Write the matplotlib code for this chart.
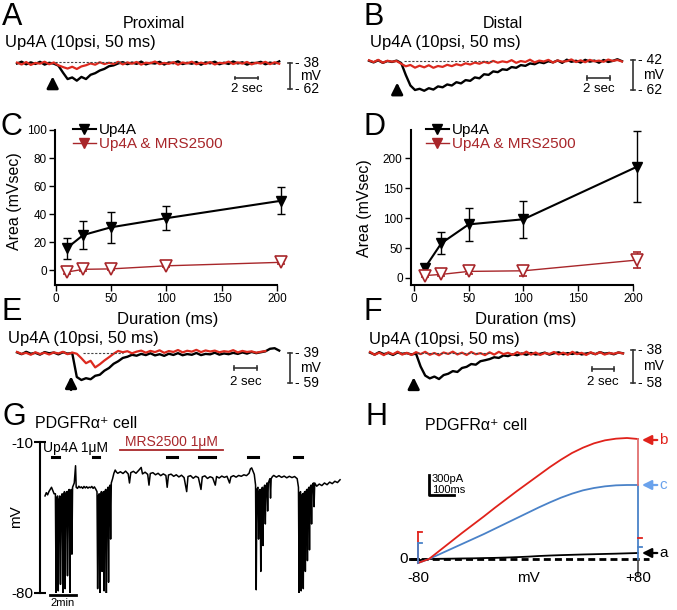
import matplotlib
matplotlib.use('Agg')
import matplotlib.pyplot as plt
import numpy as np

plt.rcParams['font.family'] = ['Liberation Sans', 'DejaVu Sans']

RED = '#dc2a1f'
DARKRED = '#a8262a'
BLUE = '#4a82c8'
LIGHTBLUE = '#6aa2ec'

DT = 0.4

# A, proximal (mV)
prox_up4a = [-38.5, -36.8, -39.2, -37.4, -38.9, -36.9, -39.5, -37.8, -38.6, -40.5,
             -47, -53, -51.5, -54.5, -51, -53, -49, -47.5, -45, -43.5,
             -41, -40.2, -38.4, -37.2, -39.1, -37.6, -38.8, -36.7, -39.3, -37.9,
             -38.5, -36.9, -39.4, -37.5, -38.2, -36.4, -39, -37.8, -38.7, -37.1,
             -39.6, -37.4, -38.3, -36.8, -39.2, -37.7, -38.9, -36.6, -38.4, -37.3,
             -39.5, -37.9, -38.1, -36.9, -39.2, -37.6, -38.6, -36.5]
prox_mrs = [-37.6, -39.4, -37.1, -39.8, -37.9, -38.6, -36.8, -39.2, -37.5, -40.2,
            -41.8, -43.2, -41.5, -43.6, -41.2, -40.1, -38.4, -39.6, -37.3, -39,
            -37.8, -38.9, -36.9, -39.3, -37.4, -38.7, -37, -39.5, -37.7, -38.2,
            -36.6, -39.1, -37.9, -38.8, -37.2, -39.6, -37.5, -38.4, -36.8, -39.2,
            -37.6, -38.9, -37.1, -39.4, -37.8, -38.3, -36.7, -39, -37.4, -38.6,
            -37, -39.3, -37.7, -38.5, -36.9, -39.1, -37.3, -38.7]

# B, distal (mV)
dist_up4a = [-42.5, -43.6, -42.2, -43.9, -42.7, -43.3, -42.4, -44, -52, -59,
             -62, -61.2, -62.5, -60.8, -61.7, -59.6, -60.2, -58.3, -59, -56.8,
             -57.6, -55.4, -55.9, -53.6, -54.2, -51.5, -51.9, -49.6, -50.1, -48.2,
             -48.6, -46.7, -47.2, -45.4, -45.9, -44.3, -44.8, -43.4, -44.1, -42.8,
             -43.6, -42.3, -43.9, -41.8, -43.2, -42.5, -43.7, -41.9, -43.1, -42.4,
             -43.8, -42, -43.3, -42.6, -41.5, -42.8]
dist_mrs = [-42.2, -43.4, -41.9, -43.8, -42.5, -43.1, -42.7, -44.5, -46.2, -45.3,
            -47.1, -45.8, -46.9, -45.5, -47.2, -46, -46.6, -45.2, -46.1, -44.8,
            -45.6, -44.2, -45, -43.7, -44.5, -43.2, -44.1, -42.6, -43.8, -42.9,
            -43.5, -42.1, -43.9, -42.7, -43.3, -41.8, -43.6, -42.4, -43, -41.9,
            -43.7, -42.3, -43.1, -42.8, -41.6, -43.4, -42.2, -43.5, -41.9, -42.9,
            -42.4, -43.2, -41.7, -42.6, -42, -43]

# E (mV)
e_up4a = [-38.6, -39.8, -38.2, -39.5, -38.9, -40.1, -38.4, -39.2, -38.7, -39.9,
          -38.5, -39.4, -39, -55, -57, -55.8, -56.5, -54.2, -53.5, -50.8,
          -49, -46.2, -44.5, -42.3, -41.5, -40.2, -40.8, -39.6, -40.4, -39.2,
          -40.6, -39.8, -40.9, -39.5, -40.3, -39.1, -40.5, -39.7, -40.2, -39,
          -40.4, -39.6, -39.9, -38.8, -40.1, -39.3, -39.8, -38.9, -39.6, -38.6,
          -39.4, -38.3, -39.1, -38.5, -37.9, -36.2, -35.8, -37.4]
e_mrs = [-38.3, -39.6, -38.9, -40.2, -38.5, -39.7, -38.8, -40, -38.6, -39.3,
         -38.2, -39.8, -38.7, -39.5, -42.5, -45.8, -44.2, -48.6, -46.5, -44,
         -41.8, -39.5, -37.6, -38.5, -37.8, -39.2, -38.1, -37.4, -38.8, -37.6,
         -38.4, -37.2, -38.9, -37.7, -38.3, -37, -38.6, -37.5, -38.1, -36.9,
         -38.4, -37.3, -38, -37.4, -38.5, -37.8, -38.2, -37.1, -38.6, -37.6,
         -38.3, -37.9, -38.8, -38.2, -37.7]

# F (mV)
f_up4a = [-39.6, -40.8, -39.3, -40.5, -39.8, -41, -39.5, -40.3, -39.9, -40.7,
          -40.2, -48, -53.5, -55.2, -54.1, -55.6, -53.2, -52.4, -50.8, -51.3,
          -48.9, -48.2, -46.5, -46.9, -44.8, -44.2, -43.5, -42.4, -42.8, -41.3,
          -41.7, -40.6, -41.2, -40.1, -40.9, -39.8, -40.7, -40.3, -39.6, -40.8,
          -40, -39.4, -40.6, -39.9, -40.4, -39.5, -40.7, -40.1, -39.7, -40.5,
          -39.3, -40.2, -39.8, -40.6, -39.5, -40]
f_mrs = [-39.2, -40.9, -39.6, -41.1, -39.4, -40.6, -39, -40.8, -39.7, -41,
         -39.3, -40.5, -39.1, -40.9, -39.8, -41.2, -39.5, -40.4, -39, -40.7,
         -39.6, -41, -39.2, -40.6, -39.9, -41.1, -39.4, -40.8, -39.1, -40.5,
         -39.7, -40.9, -39.3, -40.6, -39, -40.8, -39.5, -41, -39.8, -40.4,
         -39.2, -40.7, -39.6, -40.9, -39.1, -40.5, -39.7, -41, -39.4, -40.6,
         -39.3, -40.8, -39.8, -40.3, -39.5, -40.1]

# C / D summary
duration = [10, 25, 50, 100, 204]
prox_area = [15.5, 25, 30.5, 37, 49.5]
prox_err = [7.5, 10, 11, 8.5, 9.5]
prox_area_mrs = [-1.5, 0.5, 0.8, 3, 5.5]
prox_err_mrs = [1, 1, 1, 1, 1]
dist_area = [17, 58, 89.5, 98, 186]
dist_err = [5, 18, 27.5, 31, 60]
dist_area_mrs = [4, 6, 11, 12, 30]
dist_err_mrs = [3, 3, 4, 8, 14]

# G, PDGFRa+ cell membrane potential (min, mV)
g_t = [0, 0.1, 0.2, 0.3, 0.4, 0.5, 0.6, 0.7,
       0.8, 0.85, 0.9, 0.97, 1.02, 1.07, 1.14, 1.19, 1.24, 1.32, 1.37, 1.42, 1.5, 1.55, 1.6,
       1.68, 1.73, 1.78, 1.86, 1.91, 1.96, 2.02, 2.07, 2.12, 2.25, 2.35, 2.4,
       2.5, 2.6, 2.7, 2.8, 2.9, 3.0, 3.1, 3.2, 3.3, 3.4, 3.5, 3.6, 3.7, 3.8, 3.9, 4.0,
       4.05, 4.1, 4.17, 4.22, 4.27, 4.34, 4.39, 4.44, 4.5, 4.55, 4.6, 4.67, 4.72, 4.77,
       4.84, 4.89, 4.94, 5.0, 5.05, 5.1,
       5.2, 5.3, 5.4, 5.5, 5.6,
       5.8, 6.0, 6.2, 6.4, 6.5, 6.6, 6.8, 7.0, 7.2, 7.4, 7.5, 7.7, 7.9, 8.0, 8.1, 8.3,
       8.5, 8.7, 8.9, 9.1, 9.3, 9.4, 9.5, 9.7, 9.9, 10.1, 10.3, 10.5, 10.7, 10.9, 11.0,
       11.2, 11.4, 11.6, 11.8, 12.0, 12.1, 12.3, 12.5, 12.7, 12.9, 13.1, 13.2, 13.4,
       13.6, 13.8, 14.0, 14.2, 14.3, 14.5, 14.7, 14.9, 15.1, 15.3, 15.5, 15.7, 15.8,
       15.9, 16.0, 16.1,
       16.2, 16.25, 16.3, 16.38, 16.43, 16.48, 16.55, 16.6, 16.65, 16.72, 16.77, 16.82,
       16.9, 16.95, 17.0, 17.08, 17.13, 17.18, 17.3, 17.35, 17.4, 17.5,
       17.6, 17.8, 18.0, 18.2, 18.4, 18.6, 18.8, 19.0, 19.2, 19.4,
       19.5, 19.55, 19.6, 19.66, 19.71, 19.76, 19.82, 19.87, 19.92, 19.98, 20.03, 20.08,
       20.14, 20.19, 20.24, 20.3, 20.35, 20.4, 20.46, 20.51, 20.56, 20.65, 20.7, 20.75,
       20.9, 21.1, 21.3, 21.5, 21.7, 21.9, 22.1, 22.3, 22.5, 22.7]
g_v = [-35, -33.5, -34.5, -33, -32, -31, -32.5, -34,
       -34, -80, -36, -35, -79, -37, -35, -76, -36, -34, -80, -35, -33, -78, -34,
       -33, -72, -33, -32, -80, -33, -32, -62, -31, -29, -21, -31,
       -31.5, -30.5, -31.2, -30.8, -31.5, -30.6, -31.3, -30.7, -31.4, -30.9, -31.2,
       -30.6, -31.5, -30.8, -31.8, -33,
       -78, -35, -34, -80, -36, -33, -70, -35, -33, -79, -33, -32, -80, -33,
       -31, -75, -31, -30, -55, -29,
       -27, -24.5, -23, -24, -24.5,
       -23.8, -24.6, -23.5, -24.8, -29, -24.2, -23.6, -24.5, -23.2, -21.8, -24.8, -24.0,
       -25, -30, -24.6, -24.2, -25.2, -24.5, -25.6, -24.8, -25.5, -31, -25.3, -24.9,
       -25.9, -25.2, -26.2, -25.4, -26.5, -33, -26, -25.6, -26.8, -25.9, -26.5, -32,
       -26.2, -25.7, -26.9, -26.1, -26.6, -30, -26.0, -26.7, -25.8, -26.4, -25.9, -29,
       -26.2, -25.6, -26.3, -25.5, -25.9, -25.2, -25.6, -24.5, -22.5, -22, -23.5, -25,
       -30, -78.5, -32, -31, -55, -33, -32, -70, -34, -31, -58, -32,
       -30, -48, -31, -29, -42, -29, -27, -36, -27, -26,
       -25.5, -26.3, -25.6, -26.4, -25.8, -26.6, -25.9, -26.5, -26, -27,
       -31, -80, -34, -33, -79, -35, -34, -78, -34, -33, -70, -33,
       -32, -65, -32, -31, -60, -31, -30, -48, -30, -29, -40, -29,
       -30.5, -29.5, -30.2, -29, -29.8, -28.6, -29.3, -28.2, -28.8, -27.5]
up4a_on = [0.54, 3.7, 9.4, 11.85, 15.6, 19.15]
up4a_off = [1.08, 4.15, 10.15, 13.1, 16.4, 19.8]
mrs_span = [5.77, 13.7]

# H, ramp currents (mV, pA)
ramp_mv = [-80, -76, -72, -64, -56, -48, -40, -32, -24, -16, -8, 0, 8, 16, 24, 32,
           40, 48, 56, 64, 72, 80]
ramp_b = [-60, -30, 0, 130, 260, 390, 515, 640, 770, 895, 1020, 1140, 1260, 1380,
          1490, 1590, 1670, 1735, 1780, 1805, 1815, 1800]
ramp_c = [-60, -30, 0, 75, 150, 225, 300, 375, 455, 535, 615, 695, 775, 850, 920,
          980, 1030, 1065, 1090, 1105, 1110, 1110]
ramp_a = [-20, -10, 0, 3, 5, 8, 10, 14, 17, 22, 28, 35, 45, 52, 58, 63, 68, 72, 76,
          80, 85, 90]

W, H = 677, 610
fig = plt.figure(figsize=(6.77, 6.10), dpi=100)


def px_axes(x0, y0, x1, y1):
    return fig.add_axes([x0 / W, 1 - y1 / H, (x1 - x0) / W, (y1 - y0) / H])


def ftext(x, y, s, **kw):
    fig.text(x / W, 1 - y / H, s, **kw)


def trace_axes(x0, x1, y0, y1, t0_px, v_ref, v_ref_px, mv_px, s_px=11.5):
    ax = px_axes(x0, y0, x1, y1)
    ax.set_xlim((x0 - t0_px) / s_px, (x1 - t0_px) / s_px)
    ax.set_ylim(v_ref - (y1 - v_ref_px) / mv_px, v_ref + (v_ref_px - y0) / mv_px)
    ax.axis('off')
    return ax


def draw_trace(ax, black, red, arrow_t, arrow_v, dash, vbar_t, vbar_v, tbar_t, tbar_v, stext_v):
    tb = np.arange(len(black)) * DT
    tr = np.arange(len(red)) * DT
    ax.plot(dash[:2], [dash[2]] * 2, ls=(0, (2, 1.5)), color='#444444', lw=0.8, zorder=4)
    ax.plot(tb, black, color='k', lw=1.7)
    ax.plot(tr, red, color=RED, lw=1.6)
    ax.annotate('', xy=(arrow_t, arrow_v[0]), xytext=(arrow_t, arrow_v[1]),
                arrowprops=dict(arrowstyle='-|>', color='k', lw=2, mutation_scale=17,
                                shrinkA=0, shrinkB=0))
    ax.plot([vbar_t, vbar_t], vbar_v, color='#333333', lw=1.2)
    for v in vbar_v:
        ax.plot([vbar_t - 0.2, vbar_t + 0.2], [v, v], color='#333333', lw=1.2)
        ax.text(vbar_t + 0.45, v, '- %d' % -v, ha='left', va='center', fontsize=10)
    ax.text(vbar_t + 1.8, np.mean(vbar_v), 'mV', ha='center', va='center', fontsize=10)
    ax.plot(tbar_t, [tbar_v] * 2, color='#333333', lw=1.2)
    for t in tbar_t:
        ax.plot([t, t], [tbar_v - 1.3, tbar_v + 1.3], color='#333333', lw=1.2)
    ax.text(np.mean(tbar_t), stext_v, '2 sec', ha='center', va='center', fontsize=9.5)


# ---- A / B / E / F traces
axA = trace_axes(0, 336, 48, 100, 17, -38, 63, 1.07)
draw_trace(axA, prox_up4a, prox_mrs, 3.1, (-50.5, -61.5), (3.3, 9.5, -37.5),
           23.74, (-38, -62), (18.96, 20.96), -52, -62.3)
axB = trace_axes(337, 677, 48, 100, 369, -42, 60, 1.5)
draw_trace(axB, dist_up4a, dist_mrs, 2.45, (-57, -64.5), (3.0, 10.9, -42.5),
           22.96, (-42, -62), (18.96, 20.96), -54, -61.3)
axE = trace_axes(0, 336, 335, 395, 17, -39, 353, 1.5)
draw_trace(axE, e_up4a, e_mrs, 4.7, (-54.5, -63.5), (5.7, 9.2, -39),
           23.74, (-39, -59), (18.9, 20.9), -49, -58.3)
axF = trace_axes(337, 677, 335, 395, 370, -38, 350, 1.65)
draw_trace(axF, f_up4a, f_mrs, 3.8, (-54.5, -61.5), (4.1, 10.4, -39.8),
           22.87, (-38, -58), (19.3, 21.2), -49.5, -57.4)

for lab, x, y in [('A', 2, 25), ('B', 364, 25), ('C', 1, 135), ('D', 364, 135),
                  ('E', 1, 320), ('F', 364, 320), ('G', 2, 425), ('H', 365, 425)]:
    ftext(x, y, lab, fontsize=22, va='baseline', ha='left')

ftext(154, 23, 'Proximal', fontsize=11.5, ha='center', va='center')
ftext(503, 23, 'Distal', fontsize=11.5, ha='center', va='center')
for x, y in [(5, 43), (370, 43), (8, 338), (369, 340)]:
    ftext(x, y, 'Up4A (10psi, 50 ms)', fontsize=12, ha='left', va='center')


# ---- C / D summary plots
def summary(ax, area, err, area_m, err_m, ylim, yticks):
    ax.errorbar(duration, area, yerr=err, fmt='-v', color='k', ms=7, lw=1.5,
                elinewidth=1, capsize=3, clip_on=False, zorder=3)
    ax.errorbar(duration, area_m, yerr=err_m, fmt='-v', color=DARKRED, mfc='white',
                mec=DARKRED, ms=8, mew=1.2, lw=1, elinewidth=1, capsize=3,
                clip_on=False, zorder=3)
    for s in ['top', 'right']:
        ax.spines[s].set_visible(False)
    for s in ['left', 'bottom']:
        ax.spines[s].set_linewidth(1.5)
    ax.set_ylim(*ylim)
    ax.set_yticks(yticks)
    ax.set_xticks([0, 50, 100, 150, 200])
    ax.tick_params(direction='out', length=4, width=1, labelsize=8.5, pad=2)
    ax.set_ylabel('Area (mVsec)', fontsize=11.5)
    ax.set_xlabel('Duration (ms)', fontsize=12)
    leg_h = [plt.Line2D([], [], color='k', marker='v', ms=7, lw=1.5),
             plt.Line2D([], [], color=DARKRED, marker='v', ms=7, lw=1)]
    return leg_h


axC = px_axes(55, 130, 277, 285)
axC.set_xlim(-0.5, 200)
hC = summary(axC, prox_area, prox_err, prox_area_mrs, prox_err_mrs, (-10.7, 100),
             [0, 20, 40, 60, 80, 100])
axC.yaxis.set_label_coords(22 / W, 1 - 201 / H, transform=fig.transFigure)
axC.xaxis.set_label_coords(168 / W, 1 - 312 / H, transform=fig.transFigure)
axC.legend(hC, ['Up4A', 'Up4A & MRS2500'], loc='upper left',
           bbox_to_anchor=(73 / W, 1 - 123 / H), bbox_transform=fig.transFigure,
           frameon=False, fontsize=11, handlelength=1.5, handletextpad=0.2,
           labelspacing=0.0, borderpad=0, borderaxespad=0,
           labelcolor=['k', DARKRED])

axD = px_axes(411, 130, 633, 285)
axD.set_xlim(-2.7, 200)
hD = summary(axD, dist_area, dist_err, dist_area_mrs, dist_err_mrs, (-11.7, 247),
             [0, 50, 100, 150, 200])
axD.yaxis.set_label_coords(372 / W, 1 - 208 / H, transform=fig.transFigure)
axD.xaxis.set_label_coords(526 / W, 1 - 312 / H, transform=fig.transFigure)
axD.legend(hD, ['Up4A', 'Up4A & MRS2500'], loc='upper left',
           bbox_to_anchor=(426 / W, 1 - 123 / H), bbox_transform=fig.transFigure,
           frameon=False, fontsize=11, handlelength=1.5, handletextpad=0.2,
           labelspacing=0.0, borderpad=0, borderaxespad=0,
           labelcolor=['k', DARKRED])

# ---- G
axG = px_axes(40, 442, 345, 593)
axG.set_xlim(-0.385, 23.08)
axG.set_ylim(-80, -10)
axG.plot(g_t, g_v, color='k', lw=1.1)
for s in ['top', 'right', 'bottom']:
    axG.spines[s].set_visible(False)
axG.spines['left'].set_linewidth(1.5)
axG.set_xticks([])
axG.set_yticks([-80, -10])
axG.set_yticklabels(['-80', '-10'])
axG.tick_params(axis='y', direction='inout', length=8, width=1.5, labelsize=11, pad=1)
axG.set_ylabel('mV', fontsize=11)
axG.yaxis.set_label_coords(23 / W, 1 - 517 / H, transform=fig.transFigure)
for a, b in zip(up4a_on, up4a_off):
    axG.plot([a, b], [-17, -17], color='k', lw=2.2, clip_on=False)
axG.text(-0.15, -12.8, 'Up4A 1μM', fontsize=10, ha='left', va='center')
axG.plot(mrs_span, [-13.7, -13.7], color=DARKRED, lw=1.3, clip_on=False)
axG.text(np.mean(mrs_span), -10.2, 'MRS2500 1μM', fontsize=10, color=DARKRED,
         ha='center', va='center')
axG.plot([0.38, 2.38], [-80.7, -80.7], color='k', lw=2, clip_on=False)
axG.text(1.38, -84.5, '2min', fontsize=8, ha='center', va='center')
ftext(35, 423, 'PDGFRα⁺ cell', fontsize=11.5, ha='left', va='center')

# ---- H
axH = px_axes(395, 420, 677, 600)
axH.set_xlim((395 - 418) / 1.375 - 80, (677 - 418) / 1.375 - 80)
axH.set_ylim((559 - 600) * 15, (559 - 420) * 15)
axH.axis('off')
axH.plot([-86, 88], [0, 0], color='k', lw=2, ls=(0, (2.5, 1.5)))
axH.plot([-86, -80], [0, 0], color='k', lw=2)
axH.plot(ramp_mv, ramp_a, color='k', lw=1.3)
axH.plot(ramp_mv, ramp_c, color=BLUE, lw=1.3)
axH.plot(ramp_mv, ramp_b, color='#e0221b', lw=1.3)
axH.plot([80, 80], [-240, 0], color='#555555', lw=1.3)
axH.plot([80, 80], [0, 1110], color=BLUE, lw=1.3)
axH.plot([80, 80], [1110, 1800], color='#e07070', lw=1.3)
axH.plot([80, 83], [315, 315], color='#e0221b', lw=1.3)
axH.plot([80, 83], [180, 180], color=BLUE, lw=1.3)
axH.plot([-80, -80], [-60, 405], color='#e0221b', lw=1.3)
axH.plot([-80, -77], [405, 405], color='#e0221b', lw=1.3)
axH.plot([-80, -80], [-60, 240], color=BLUE, lw=1.3)
axH.plot([-80, -77], [240, 240], color=BLUE, lw=1.3)
for yv, col, lab in [(1785, '#e0221b', 'b'), (1110, LIGHTBLUE, 'c'), (90, 'k', 'a')]:
    axH.annotate('', xy=(82.9, yv), xytext=(94, yv),
                 arrowprops=dict(arrowstyle='-|>', color=col, lw=1.6,
                                 mutation_scale=14, shrinkA=0, shrinkB=0))
    axH.text(95.3, yv, lab, color=col, fontsize=11, ha='left', va='center')
axH.text(-87, 0, '0', fontsize=11, ha='right', va='center')
axH.text(-80, -285, '-80', fontsize=11, ha='center', va='center')
axH.text(0, -285, 'mV', fontsize=11, ha='center', va='center')
axH.text(80, -285, '+80', fontsize=11, ha='center', va='center')
axH.plot([-72, -72, -53.8], [1260, 960, 960], color='k', lw=2)
axH.text(-70, 1200, '300pA', fontsize=8, ha='left', va='center')
axH.text(-70, 1035, '100ms', fontsize=8, ha='left', va='center')
ftext(425, 425, 'PDGFRα⁺ cell', fontsize=11.5, ha='left', va='center')

fig.savefig('out.png', dpi=100)
